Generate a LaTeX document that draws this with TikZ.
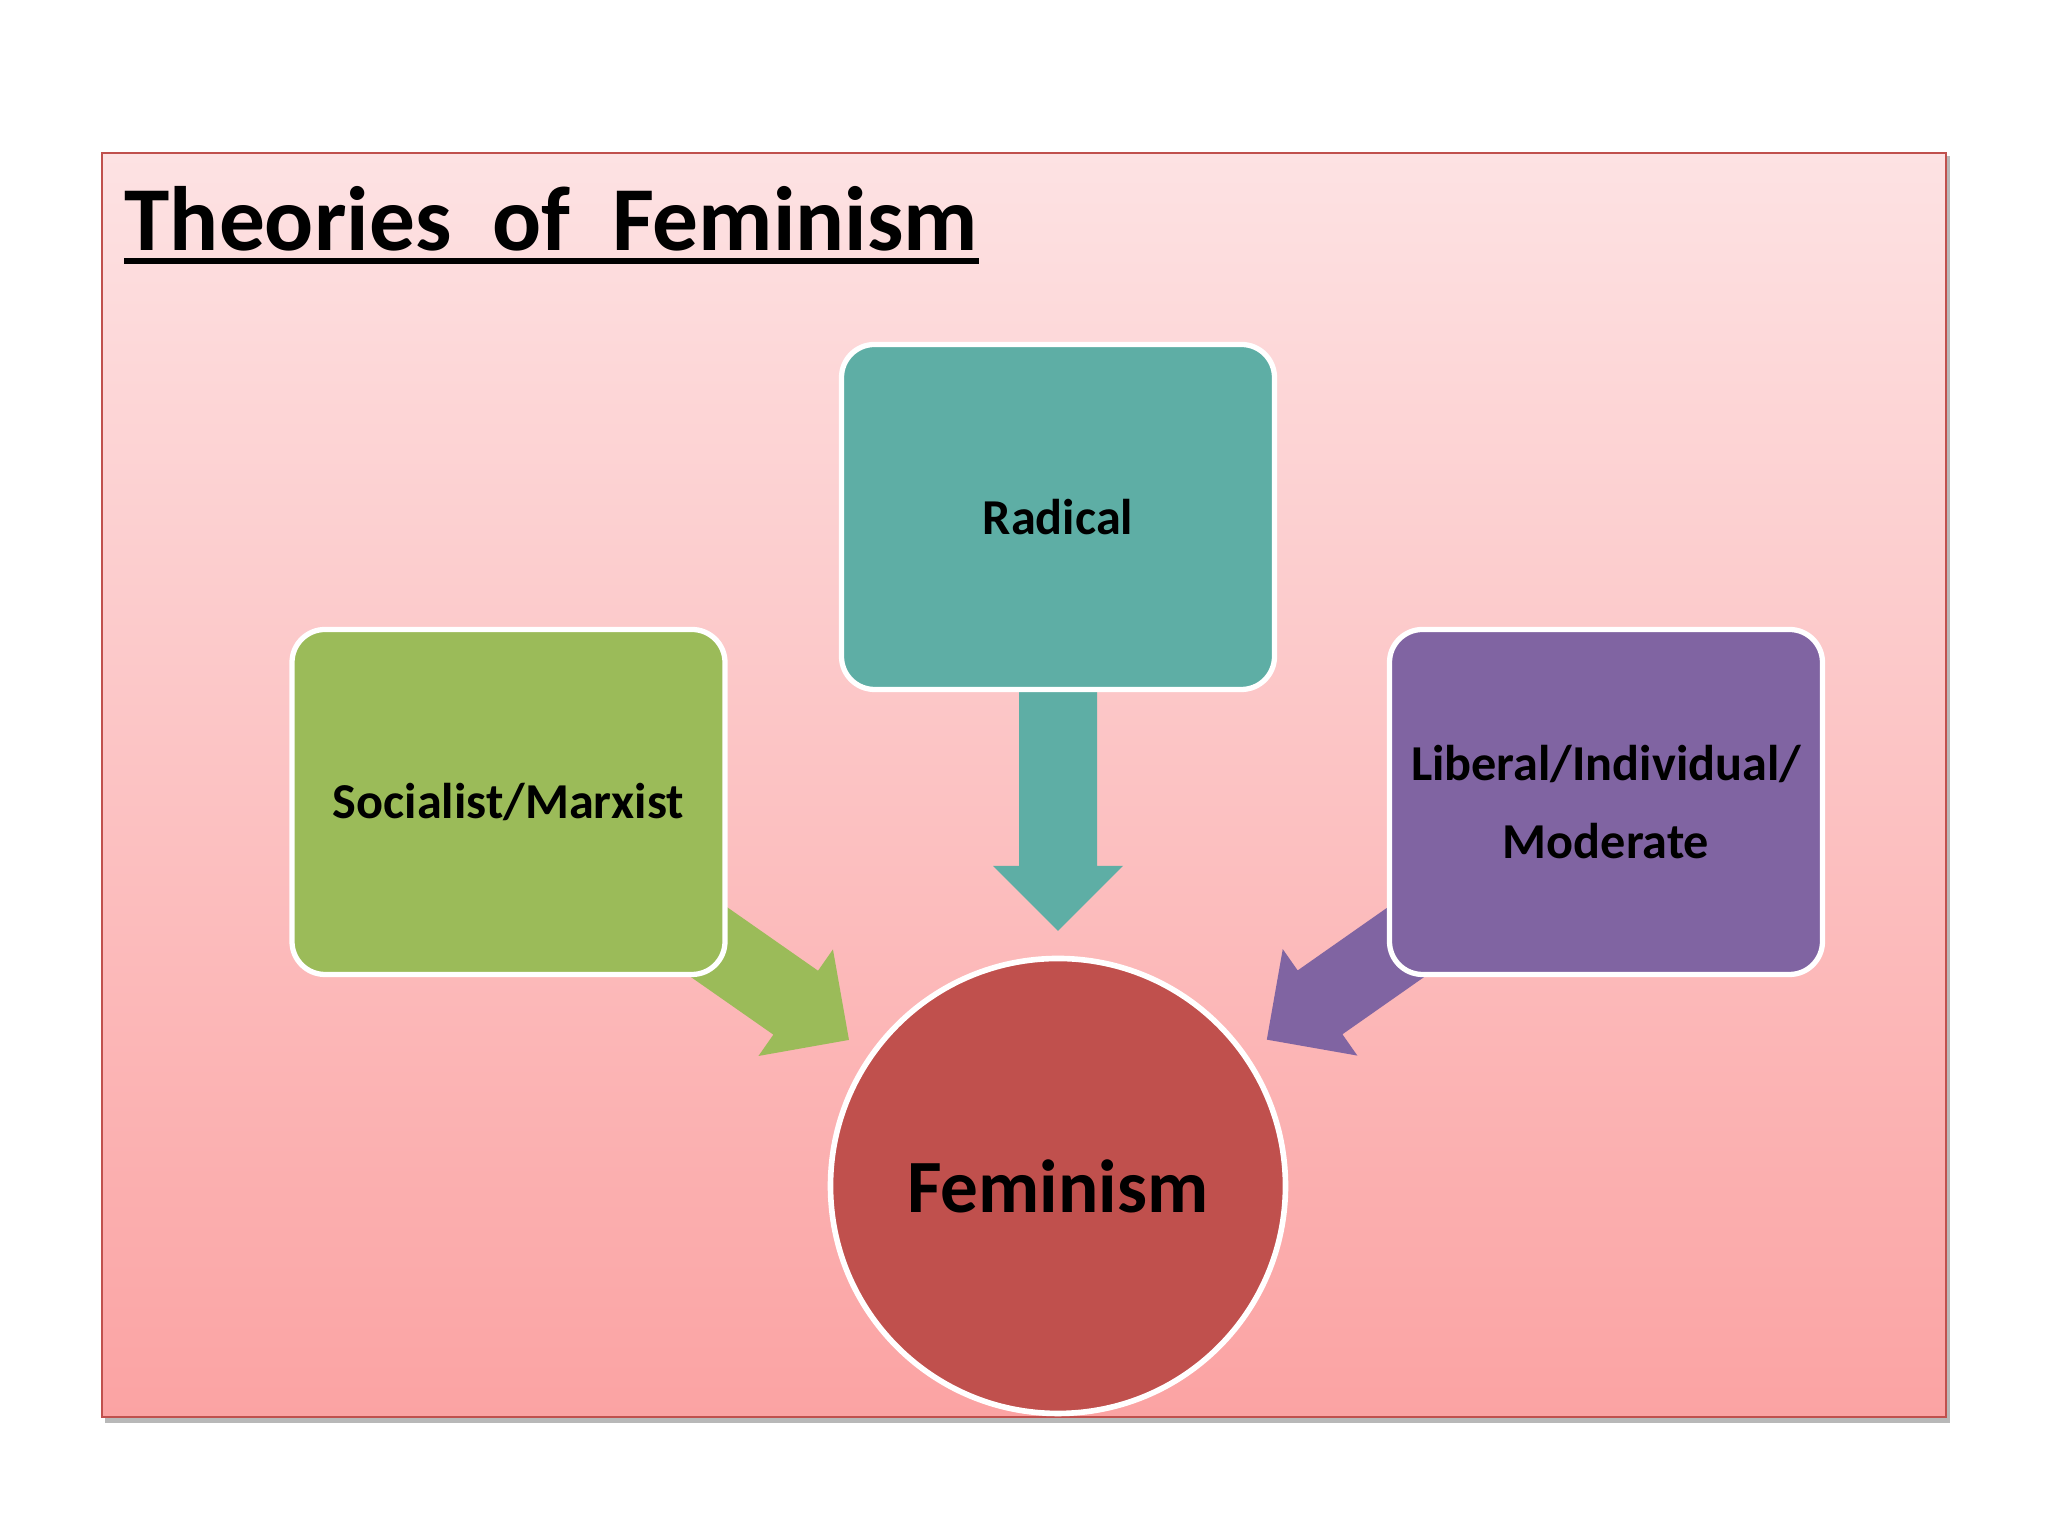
\documentclass[tikz,border=0pt]{standalone}
\usepackage{fontspec}
\setmainfont{Carlito}
\usetikzlibrary{positioning,calc,backgrounds}
\definecolor{pinktop}{RGB}{253,226,227}
\definecolor{pinkbottom}{RGB}{251,163,163}
\definecolor{slidered}{RGB}{192,80,77}
\definecolor{femred}{RGB}{192,80,77}
\definecolor{radteal}{RGB}{94,174,165}
\definecolor{socgreen}{RGB}{155,187,89}
\definecolor{libpurple}{RGB}{128,100,162}
% Block arrow from the centre of #2 towards the centre of #3
\newcommand*{\blockarrow}[3]{%
  \coordinate (s) at (#2.center);
  \coordinate (t) at ($(#3.center)!2.55cm!(#2.center)$);
  \coordinate (h) at ($(t)!0.65cm!(s)$);
  \fill[#1] ($(s)!0.39cm!90:(t)$) -- ($(h)!0.39cm!90:(t)$)
    -- ($(h)!0.65cm!90:(t)$) -- (t) -- ($(h)!0.65cm!-90:(t)$)
    -- ($(h)!0.39cm!-90:(t)$) -- ($(s)!0.39cm!-90:(t)$) -- cycle;}

\begin{document}
\begin{tikzpicture}[
  box/.style={draw=white,line width=1.5pt,rounded corners=0.33cm,
    minimum width=4.33cm,minimum height=3.45cm,align=center,
    font=\fontsize{14.3}{22.2}\selectfont\bfseries},
  hub/.style={circle,draw=white,line width=1.6pt,minimum size=4.55cm,
    fill=femred,font=\fontsize{21.4}{25}\selectfont\bfseries}]
% Page is 20.48 x 15.36
\useasboundingbox (0,0) rectangle (20.48,15.36);
% The three theories and the centre circle
\node[box,fill=radteal] (radical) at (10.58,10.19) {Radical};
\node[box,fill=socgreen] (socialist) at (5.085,7.34) {Socialist/Marxist};
\node[box,fill=libpurple] (liberal) at (16.06,7.34) {Liberal/Individual/\\Moderate};
\node[hub] (feminism) at (10.58,3.50) {Feminism};
% Heading, underlined by hand
\node[anchor=base west,inner sep=0pt,font=\fontsize{26}{30}\selectfont\bfseries]
  (title) at (1.24,12.85) {Theories\ \ of\ \ Feminism};
\draw[line width=1.6pt] ([yshift=-0.1cm]title.base west) -- ([yshift=-0.1cm]title.base east);
% Slide, shadow and arrows go behind the boxes
\begin{pgfonlayer}{background}
\fill[white] (0,0) rectangle (20.48,15.36);
\fill[black!28] (1.05,1.13) rectangle (19.50,13.80);
\shadedraw[top color=pinktop,bottom color=pinkbottom,draw=slidered,line width=0.6pt]
  (1.02,1.19) rectangle (19.46,13.83);
\blockarrow{radteal}{radical}{feminism}
\blockarrow{socgreen}{socialist}{feminism}
\blockarrow{libpurple}{liberal}{feminism}
\end{pgfonlayer}
\end{tikzpicture}
\end{document}
